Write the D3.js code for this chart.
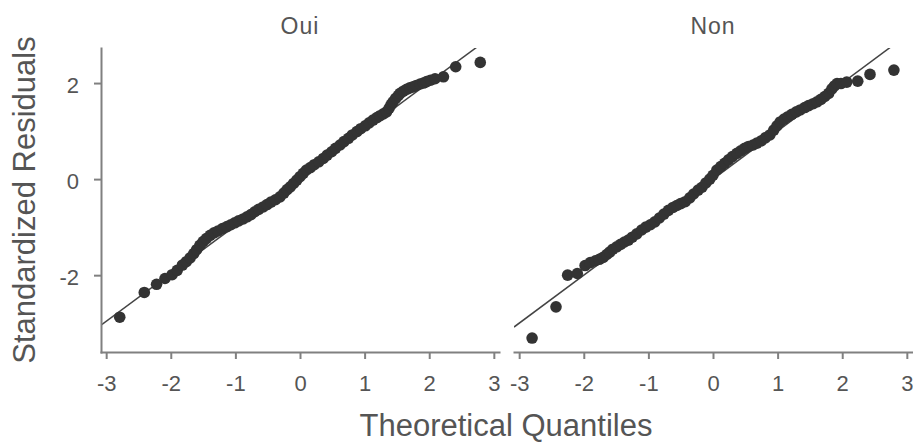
<!DOCTYPE html>
<html>
<head>
<meta charset="utf-8">
<script src="https://cdn.jsdelivr.net/npm/d3@7/dist/d3.min.js"></script>
<style>
  html, body { margin: 0; padding: 0; background: #fff; }
  svg { display: block; font-family: "Liberation Sans", Arial, sans-serif; }
</style>
</head>
<body>
<svg id="chart" width="913" height="442"></svg>
<script>
/** panels and ticks */
const panelNames = ["Oui", "Non"];
const xTicks = [-3, -2, -1, 0, 1, 2, 3];
const yTicks = [-2, 0, 2];

/** reference lines: [slope, intercept] */
const qqLines = [
  [0.995, 0.025],
  [1.0, 0.0],
];

/** "Oui" points: theoretical quantile and standardized residual */
const ouiQuantiles = [
  -2.79, -2.41, -2.22, -2.09, -1.98, -1.9, -1.82, -1.76, -1.7, -1.645,
  -1.6, -1.55, -1.5, -1.45, -1.39, -1.33, -1.27, -1.2, -1.13, -1.07,
  -1.01, -0.95, -0.88, -0.82, -0.76, -0.7, -0.64, -0.57, -0.51, -0.45,
  -0.38, -0.31, -0.25, -0.2, -0.15, -0.1, -0.05, 0.0, 0.05, 0.1,
  0.16, 0.22, 0.29, 0.36, 0.42, 0.49, 0.55, 0.62, 0.68, 0.75,
  0.81, 0.88, 0.94, 1.01, 1.07, 1.13, 1.19, 1.24, 1.29, 1.34,
  1.38, 1.41, 1.44, 1.48, 1.52, 1.55, 1.6, 1.65, 1.7, 1.75,
  1.8, 1.86, 1.91, 1.96, 2.02, 2.09, 2.22, 2.41, 2.79,
];
const ouiResiduals = [
  -2.875, -2.36, -2.19, -2.07, -1.99, -1.9, -1.79, -1.72, -1.64, -1.55,
  -1.47, -1.38, -1.3, -1.24, -1.17, -1.12, -1.08, -1.03, -0.99, -0.95,
  -0.91, -0.87, -0.83, -0.785, -0.74, -0.68, -0.63, -0.58, -0.53, -0.48,
  -0.43, -0.37, -0.29, -0.22, -0.16, -0.09, -0.02, 0.05, 0.12, 0.19,
  0.24, 0.3, 0.36, 0.43, 0.5, 0.57, 0.64, 0.71, 0.78, 0.85,
  0.92, 0.99, 1.05, 1.11, 1.17, 1.23, 1.28, 1.32, 1.36, 1.4,
  1.48, 1.55, 1.61, 1.68, 1.74, 1.785, 1.83, 1.87, 1.9, 1.92,
  1.95, 1.98, 2.0, 2.03, 2.06, 2.09, 2.13, 2.34, 2.43,
];

/** "Non" points */
const nonQuantiles = [
  -2.8, -2.43, -2.25, -2.1, -1.98, -1.9, -1.82, -1.76, -1.7, -1.645,
  -1.6, -1.55, -1.49, -1.43, -1.37, -1.31, -1.25, -1.18, -1.105, -1.04,
  -0.97, -0.9, -0.83, -0.76, -0.69, -0.62, -0.56, -0.5, -0.43, -0.36,
  -0.3, -0.23, -0.17, -0.11, -0.05, 0.0, 0.06, 0.12, 0.18, 0.24,
  0.3, 0.37, 0.43, 0.49, 0.55, 0.62, 0.68, 0.75, 0.81, 0.88,
  0.94, 0.99, 1.04, 1.1, 1.16, 1.22, 1.29, 1.35, 1.42, 1.48,
  1.55, 1.61, 1.67, 1.73, 1.79, 1.84, 1.88, 1.92, 1.98, 2.07,
  2.24, 2.43, 2.8,
];
const nonResiduals = [
  -3.31, -2.66, -2.0, -1.965, -1.8, -1.74, -1.7, -1.67, -1.63, -1.57,
  -1.52, -1.46, -1.41, -1.36, -1.31, -1.27, -1.21, -1.14, -1.06, -1.0,
  -0.95, -0.89, -0.81, -0.73, -0.65, -0.59, -0.55, -0.51, -0.47, -0.39,
  -0.31, -0.23, -0.17, -0.08, 0.0, 0.08, 0.19, 0.26, 0.33, 0.4,
  0.47, 0.535, 0.59, 0.64, 0.68, 0.71, 0.75, 0.8, 0.86, 0.92,
  1.02, 1.11, 1.19, 1.25, 1.3, 1.35, 1.4, 1.44, 1.49, 1.53,
  1.57, 1.61, 1.66, 1.72, 1.785, 1.88, 1.94, 1.99, 1.99, 2.02,
  2.04, 2.18, 2.27,
];

const panelData = [
  d3.zip(ouiQuantiles, ouiResiduals),
  d3.zip(nonQuantiles, nonResiduals),
];

/** layout */
const panelW = 398;
const panelH = 304;
const panelTop = 48;
const panelLefts = [101, 514];

const svg = d3.select("#chart");

const x = d3.scaleLinear().domain([-3.08, 3.08]).range([0, panelW]);
const y = d3.scaleLinear().domain([-3.6, 2.73]).range([panelH, 0]);

/** plain hyphen minus, no decimals */
const tickFmt = (d) => String(d);

svg
  .append("defs")
  .append("clipPath")
  .attr("id", "panel-clip")
  .append("rect")
  .attr("width", panelW)
  .attr("height", panelH);

panelNames.forEach((name, i) => {
  const g = svg
    .append("g")
    .attr("transform", `translate(${panelLefts[i]},${panelTop})`);

  /** panel title */
  g.append("text")
    .text(name)
    .attr("x", panelW / 2)
    .attr("y", 34 - panelTop)
    .attr("text-anchor", "middle")
    .attr("font-size", 23)
    .attr("letter-spacing", 1)
    .attr("fill", "#555");

  /** qq line */
  const [slope, intercept] = qqLines[i];
  const dom = x.domain();
  g.append("line")
    .attr("clip-path", "url(#panel-clip)")
    .attr("x1", x(dom[0]))
    .attr("y1", y(intercept + slope * dom[0]))
    .attr("x2", x(dom[1]))
    .attr("y2", y(intercept + slope * dom[1]))
    .attr("stroke", "#444")
    .attr("stroke-width", 1.5);

  /** points */
  g.append("g")
    .selectAll("circle")
    .data(panelData[i])
    .join("circle")
    .attr("cx", (d) => x(d[0]))
    .attr("cy", (d) => y(d[1]))
    .attr("r", 5.8)
    .attr("fill", "#333");

  /** x axis */
  const xAxis = g
    .append("g")
    .attr("transform", `translate(0,${panelH})`)
    .call(
      d3
        .axisBottom(x)
        .tickValues(xTicks)
        .tickFormat(tickFmt)
        .tickSize(7)
        .tickSizeOuter(0)
    );
  xAxis.selectAll("path, line").attr("stroke", "#808080").attr("stroke-width", 2);
  xAxis
    .selectAll("text")
    .attr("y", 39)
    .attr("dy", 0)
    .attr("font-size", 22)
    .attr("fill", "#555");

  /** y axis only on the first panel */
  if (i === 0) {
    const yAxis = g
      .append("g")
      .call(
        d3
          .axisLeft(y)
          .tickValues(yTicks)
          .tickFormat(tickFmt)
          .tickSize(7)
          .tickSizeOuter(0)
      );
    yAxis.selectAll("path, line").attr("stroke", "#808080").attr("stroke-width", 2);
    yAxis
      .selectAll("text")
      .attr("x", -22)
      .attr("dy", "0.42em")
      .attr("font-size", 22)
      .attr("fill", "#555");
  }
  g.selectAll(".domain").attr("stroke-linecap", "square");
});

/** axis titles */
svg
  .append("text")
  .text("Theoretical Quantiles")
  .attr("x", 506)
  .attr("y", 436)
  .attr("text-anchor", "middle")
  .attr("font-size", 31)
  .attr("fill", "#555");

svg
  .append("text")
  .text("Standardized Residuals")
  .attr("transform", `translate(35,${panelTop + panelH / 2}) rotate(-90)`)
  .attr("text-anchor", "middle")
  .attr("font-size", 31)
  .attr("fill", "#555");
</script>
</body>
</html>
